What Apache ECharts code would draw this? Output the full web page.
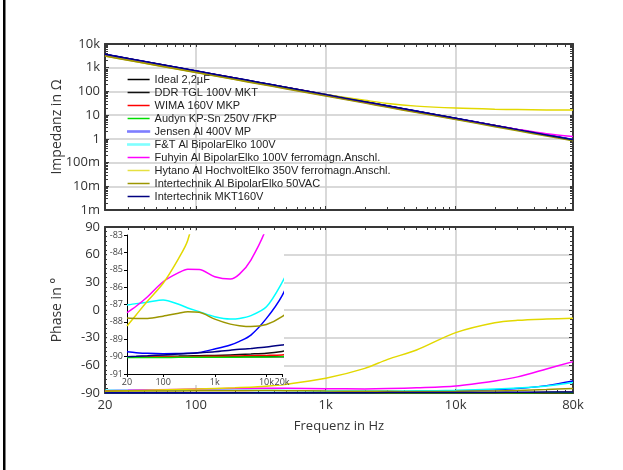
<!DOCTYPE html>
<html>
<head>
<meta charset="utf-8">
<script src="https://cdn.jsdelivr.net/npm/echarts@6/dist/echarts.min.js"></script>
<style>
html, body { margin: 0; padding: 0; background: #fff; }
#main { width: 623px; height: 470px; }
</style>
</head>
<body>
<div id="main"></div>
<script>
// Frequenzpunkte (Hz)
var freqs = [20, 30, 50, 100, 200, 300, 500, 1000, 2000, 3000, 5000, 10000, 20000, 30000, 50000, 80000];

var names = ['Ideal 2,2µF', 'DDR TGL 100V MKT', 'WIMA 160V MKP', 'Audyn KP-Sn 250V /FKP',
    'Jensen Al 400V MP', 'F&T Al BipolarElko 100V', 'Fuhyin Al BipolarElko 100V ferromagn.Anschl.',
    'Hytano Al HochvoltElko 350V ferromagn.Anschl.', 'Intertechnik Al BipolarElko 50VAC', 'Intertechnik MKT160V'];

// Impedanz in Ohm
var zIdeal  = [3620, 2410, 1450, 723, 362, 241, 145, 72.3, 36.2, 24.1, 14.5, 7.23, 3.62, 2.41, 1.45, 0.90];
var zDdr    = [3580, 2390, 1430, 716, 358, 239, 143, 71.6, 35.8, 23.9, 14.3, 7.16, 3.58, 2.39, 1.43, 0.89];
var zWima   = [3650, 2430, 1460, 729, 365, 243, 146, 72.9, 36.5, 24.3, 14.6, 7.29, 3.65, 2.43, 1.46, 0.91];
var zAudyn  = [3550, 2370, 1420, 710, 355, 237, 142, 71.0, 35.5, 23.7, 14.2, 7.10, 3.55, 2.37, 1.42, 0.88];
var zJensen = [3700, 2470, 1480, 740, 370, 247, 148, 74.0, 37.0, 24.7, 14.8, 7.40, 3.70, 2.47, 1.49, 0.95];
var zFT     = [3400, 2270, 1360, 682, 342, 229, 138, 69.0, 34.6, 23.1, 13.9, 6.95, 3.49, 2.34, 1.41, 0.90];
var zFuhyin = [3250, 2170, 1310, 660, 332, 222, 134, 67.3, 33.7, 22.5, 13.6, 6.90, 3.60, 2.50, 1.65, 1.25];
var zHytano = [3150, 2110, 1270, 645, 328, 221, 136, 74.5, 42.5, 31.0, 24.0, 19.8, 17.7, 17.1, 16.6, 16.3];
var zItAl   = [3100, 2070, 1250, 628, 316, 211, 127, 64.0, 32.1, 21.5, 12.9, 6.50, 3.26, 2.18, 1.32, 0.84];
var zItMkt  = [3680, 2450, 1470, 735, 368, 245, 147, 73.5, 36.8, 24.5, 14.7, 7.35, 3.68, 2.45, 1.47, 0.92];

// Phase in Grad
var pIdeal  = [-90, -90, -90, -90, -90, -90, -90, -90, -90, -90, -90, -90, -90, -90, -90, -90];
var pDdr    = [-90.0, -90.0, -89.99, -89.98, -89.97, -89.96, -89.95, -89.93, -89.9, -89.88, -89.85, -89.8, -89.7, -89.6, -89.4, -89.1];
var pWima   = [-90.0, -90.0, -90.0, -90.0, -90.0, -90.0, -89.99, -89.98, -89.97, -89.96, -89.95, -89.93, -89.9, -89.85, -89.7, -89.5];
var pAudyn  = [-90.05, -90.05, -90.05, -90.05, -90.04, -90.04, -90.04, -90.03, -90.03, -90.03, -90.02, -90.02, -90.0, -89.95, -89.85, -89.7];
var pJensen = [-89.72, -89.77, -89.81, -89.83, -89.82, -89.81, -89.76, -89.56, -89.33, -89.12, -88.76, -87.8, -86.5, -85.2, -82.0, -77.0];
var pFT     = [-87.03, -86.95, -86.87, -86.74, -86.99, -87.2, -87.41, -87.7, -87.83, -87.8, -87.64, -87.13, -85.74, -84.6, -82.3, -78.5];
var pFuhyin = [-87.47, -87.1, -86.55, -85.69, -85.17, -84.97, -84.98, -85.4, -85.53, -85.25, -84.44, -82.5, -77.0, -72.5, -64.0, -56.0];
var pHytano = [-88.24, -87.6, -86.8, -85.78, -84.34, -83.3, -80.5, -74.1, -63.3, -53.5, -43.4, -24.5, -13.8, -11.2, -9.8, -9.0];
var pItAl   = [-87.78, -87.8, -87.8, -87.67, -87.5, -87.42, -87.45, -87.84, -88.13, -88.22, -88.27, -88.15, -87.7, -87.2, -86.3, -85.0];
var pItMkt  = [-90.0, -89.98, -89.95, -89.9, -89.85, -89.82, -89.78, -89.72, -89.63, -89.58, -89.53, -89.45, -89.33, -89.25, -89.05, -88.8];

// Achsenbeschriftungen
var fTicks = [20, 100, 1000, 10000, 80000];
var fLabels = ['20', '100', '1k', '10k', '80k'];
var fInsetTicks = [20, 100, 1000, 10000, 20000];
var fInsetLabels = ['20', '100', '1k', '10k', '20k'];
var zTicks = [0.001, 0.01, 0.1, 1, 10, 100, 1000, 10000];
var zLabels = ['1m', '10m', '100m', '1', '10', '100', '1k', '10k'];

var impedances = [zIdeal, zDdr, zWima, zAudyn, zJensen, zFT, zFuhyin, zHytano, zItAl, zItMkt];
var phases = [pIdeal, pDdr, pWima, pAudyn, pJensen, pFT, pFuhyin, pHytano, pItAl, pItMkt];
var colors = ['#000000', '#111111', '#ff0000', '#00dd00', '#0000ff', '#00ffff', '#ff00ff', '#e2d800', '#9c9600', '#000080'];

function lookup(ticks, labels) {
    return function (v) {
        for (var i = 0; i < ticks.length; i++) {
            if (Math.abs(Math.log10(v / ticks[i])) < 0.01) return labels[i];
        }
        return '';
    };
}

function pairs(vals) {
    return freqs.map(function (f, i) { return [f, vals[i]]; });
}

// Teilstriche 1..9 je Dekade fuer die Log-Achsen (nur Rahmen-Ticks)
function decadeTicks(lo, hi, p0, p1) {
    var out = [];
    for (var p = p0; p <= p1; p++) {
        for (var m = 1; m <= 9; m++) {
            var v = Number((m * Math.pow(10, p)).toPrecision(3));
            if (v >= lo && v <= hi) out.push(v);
        }
    }
    return out;
}

var frame = { show: true, onZero: false, lineStyle: { color: '#383838', width: 2 } };
var grey = { show: true, lineStyle: { color: '#cccccc', width: 1.5 } };
var tick = { inside: true, length: 4, lineStyle: { color: '#383838' } };
var fMinor = { inside: true, length: 3, lineStyle: { color: '#383838' }, customValues: decadeTicks(20, 80000, 1, 4) };
var zMinor = { inside: true, length: 3, lineStyle: { color: '#383838' }, customValues: decadeTicks(0.001, 10000, -3, 4) };
var font = 'Open Sans';

// Achse nur fuer Rahmen-Teilstriche (ohne Linie, Text, Gitter)
function tickOnly(dim, grid, type, min, max, pos, t) {
    var ax = { gridIndex: grid, type: type, min: min, max: max, position: pos,
        axisLine: { show: false, onZero: false }, axisTick: t,
        axisLabel: { show: false }, splitLine: { show: false } };
    if (type === 'log') ax.logBase = 10;
    return ax;
}

var myChart = echarts.init(document.getElementById('main'));

var series = [];
for (var i = 0; i < names.length; i++) {
    var base = { name: names[i], type: 'line', showSymbol: false, symbol: 'none', smooth: 0.3,
        color: colors[i], lineStyle: { width: 1.5 } };
    series.push(Object.assign({}, base, { xAxisIndex: 0, yAxisIndex: 0, data: pairs(impedances[i]) }));
    series.push(Object.assign({}, base, { xAxisIndex: 1, yAxisIndex: 1, data: pairs(phases[i]) }));
    series.push(Object.assign({}, base, { xAxisIndex: 2, yAxisIndex: 2, z: 11, data: pairs(phases[i]) }));
}

var legendData = names.map(function (n, i) {
    var item = { name: n };
    if (i === 4) item.itemStyle = { color: '#7f7fff', borderColor: '#7f7fff', borderWidth: 1.2 };
    if (i === 5) item.itemStyle = { color: '#80ffff', borderColor: '#80ffff', borderWidth: 1.2 };
    if (i === 7) item.itemStyle = { color: '#e6e040', borderWidth: 0 };
    return item;
});

var option = {
    animation: false,
    backgroundColor: '#fff',
    textStyle: { fontFamily: font },
    grid: [
        { left: 105, right: 50, top: 44, height: 166 },
        { left: 105, right: 50, top: 227, height: 166 },
        { left: 127, top: 235, width: 155, height: 139 },
        { left: 105, right: 50, top: 44, height: 166 },
        { left: 105, right: 50, top: 227, height: 166 }
    ],
    graphic: [
        { type: 'rect', z: 5, silent: true, shape: { x: 107, y: 231, width: 177, height: 154 }, style: { fill: '#ffffff' } },
        { type: 'rect', silent: true, shape: { x: 3, y: 0, width: 2.5, height: 470 }, style: { fill: '#000000' } }
    ],
    legend: {
        orient: 'vertical', left: 122, top: 69, itemWidth: 22, itemHeight: 1.5, itemGap: 2, icon: 'rect',
        itemStyle: { borderWidth: 0 },
        textStyle: { fontFamily: 'Liberation Sans', fontSize: 11, color: '#222' },
        data: legendData
    },
    xAxis: [
        { gridIndex: 0, type: 'log', logBase: 10, min: 20, max: 80000, position: 'bottom',
          axisLine: frame, axisTick: tick,
          axisLabel: { show: false }, splitLine: grey },
        { gridIndex: 1, type: 'log', logBase: 10, min: 20, max: 80000, position: 'bottom',
          axisLine: frame, axisTick: tick,
          axisLabel: { fontSize: 13, color: '#333', margin: 6, formatter: lookup(fTicks, fLabels) },
          splitLine: grey,
          name: 'Frequenz in Hz', nameLocation: 'middle', nameGap: 27, nameMoveOverlap: false,
          nameTextStyle: { fontSize: 13, color: '#333' } },
        { gridIndex: 2, type: 'log', logBase: 10, min: 20, max: 20000, position: 'bottom', z: 10,
          axisLine: { show: true, onZero: false, lineStyle: { color: '#000', width: 1 } },
          axisTick: { length: 3, lineStyle: { color: '#000' } },
          axisLabel: { fontSize: 9, color: '#444', margin: 4, formatter: lookup(fInsetTicks, fInsetLabels) },
          splitLine: { show: false } },
        { gridIndex: 0, type: 'log', logBase: 10, min: 20, max: 80000, position: 'top',
          axisLine: frame, axisTick: fMinor,
          axisLabel: { show: false }, splitLine: { show: false } },
        { gridIndex: 1, type: 'log', logBase: 10, min: 20, max: 80000, position: 'top',
          axisLine: frame, axisTick: fMinor,
          axisLabel: { show: false }, splitLine: { show: false } },
        tickOnly('x', 3, 'log', 20, 80000, 'bottom', fMinor),
        tickOnly('x', 4, 'log', 20, 80000, 'bottom', fMinor)
    ],
    yAxis: [
        { gridIndex: 0, type: 'log', logBase: 10, min: 0.001, max: 10000, splitNumber: 7, position: 'left',
          axisLine: frame, axisTick: tick,
          axisLabel: { fontSize: 13, color: '#333', margin: 5, formatter: lookup(zTicks, zLabels) },
          splitLine: grey,
          name: 'Impedanz in Ω', nameLocation: 'middle', nameGap: 41, nameRotate: 90, nameMoveOverlap: false,
          nameTextStyle: { fontSize: 14, color: '#333' } },
        { gridIndex: 1, type: 'value', min: -90, max: 90, interval: 30, position: 'left',
          axisLine: frame, axisTick: tick,
          minorTick: { show: true, splitNumber: 6, length: 3, lineStyle: { color: '#383838' } },
          axisLabel: { fontSize: 13, color: '#333', margin: 5 },
          splitLine: grey,
          name: 'Phase in °', nameLocation: 'middle', nameGap: 41, nameRotate: 90, nameMoveOverlap: false,
          nameTextStyle: { fontSize: 14, color: '#333' } },
        { gridIndex: 2, type: 'value', min: -91, max: -83, interval: 1, position: 'left', z: 10,
          axisLine: { show: true, onZero: false, lineStyle: { color: '#000', width: 1 } },
          axisTick: { length: 3, lineStyle: { color: '#000' } },
          axisLabel: { fontSize: 9, color: '#444', margin: 4 },
          splitLine: { show: false } },
        { gridIndex: 0, type: 'log', logBase: 10, min: 0.001, max: 10000, splitNumber: 7, position: 'right',
          axisLine: frame, axisTick: zMinor,
          axisLabel: { show: false }, splitLine: { show: false } },
        { gridIndex: 1, type: 'value', min: -90, max: 90, interval: 30, position: 'right',
          axisLine: frame, axisTick: tick,
          minorTick: { show: true, splitNumber: 6, length: 3, lineStyle: { color: '#383838' } },
          axisLabel: { show: false }, splitLine: { show: false } },
        tickOnly('y', 3, 'log', 0.001, 10000, 'left', zMinor),
        tickOnly('y', 4, 'value', -90, 90, 'left', { show: false })
    ],
    series: series
};

myChart.setOption(option);
</script>
</body>
</html>
